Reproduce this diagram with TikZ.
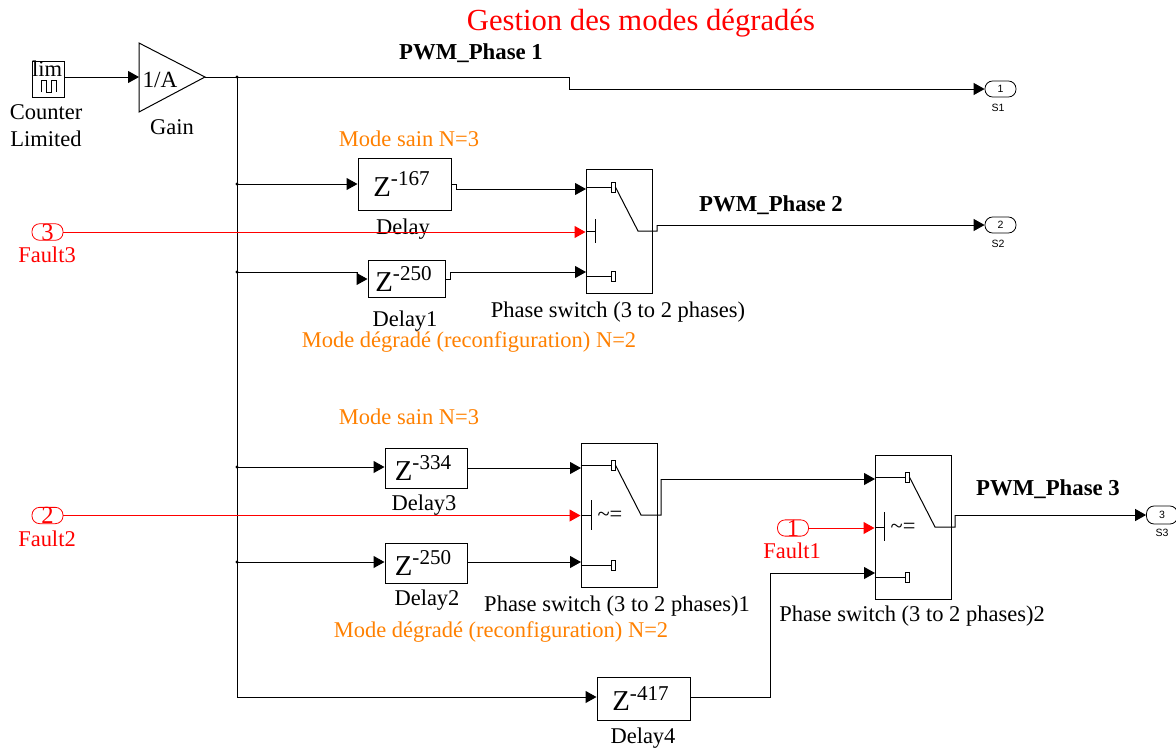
\documentclass[tikz,border=0pt]{standalone}
\usepackage{xcolor}
\usepackage{fontspec}
\setmainfont{Liberation Serif}
\setsansfont{Liberation Sans}
\usepackage{tikz}
\usetikzlibrary{arrows.meta}
\definecolor{modeorange}{RGB}{255,128,0}
\newcommand{\delayz}[1]{{\fontsize{20.5}{22}\selectfont Z}\raisebox{.75em}{\fontsize{15}{16}\selectfont #1}\kern1.5mm}
\tikzset{
  sig/.style={line width=.25mm,-{Triangle[length=2.75mm,width=3mm]}},
  sigred/.style={sig,red},
  wire/.style={line width=.25mm},
  blockbox/.style={draw,line width=.25mm,inner sep=0pt},
  switchbox/.style={draw,line width=.25mm,inner sep=0pt,minimum width=19mm,minimum height=36mm},
  contactbox/.style={draw,line width=.2mm,inner sep=0pt,minimum width=1mm,minimum height=2.5mm},
  portbox/.style={draw,line width=.2mm,rounded corners=1.9mm,inner sep=0pt,minimum width=7.75mm,minimum height=4mm},
  faultbox/.style={portbox,red,font=\fontsize{17.5}{17}\selectfont},
  outbox/.style={portbox,font=\sffamily\fontsize{7.5}{8}\selectfont},
  lbl/.style={font=\fontsize{16}{17}\selectfont,inner sep=0pt},
  small/.style={font=\sffamily\fontsize{7.5}{8}\selectfont,inner sep=0pt},
  faultlbl/.style={lbl,red},
  modelbl/.style={lbl,modeorange},
  pwmlbl/.style={lbl,font=\bfseries\fontsize{16.2}{17}\selectfont},
}
\begin{document}
\begin{tikzpicture}[x=.25mm,y=-.25mm]
\useasboundingbox (0,0) rectangle (1176,749);
\node[font=\fontsize{21.8}{25}\selectfont,red,inner sep=0pt] (title) at (641,23) {Gestion des modes dégradés};

\node[blockbox,minimum width=8mm,minimum height=9mm] (counter) at (48,79) {};
\node[lbl] (counterlim) at (47,69) {lim};
\draw[line width=.15mm] (41,92) -- (41,80) -- (46,80) -- (46,92) -- (51,92) -- (51,80) -- (56,80) -- (56,92);
\node[lbl] (counterlbl) at (46,128) {\begin{tabular}{@{}c@{}}Counter\\[2.2pt]Limited\end{tabular}};
\draw[line width=.25mm] (139,43) -- (205,77) -- (139,112) -- cycle;
\coordinate (gainin) at (139,77);
\coordinate (gainout) at (205,77);
\node[font=\fontsize{16.5}{18}\selectfont,inner sep=0pt] (gaintxt) at (160,80) {1/A};
\node[lbl] (gainlbl) at (172,127) {Gain};
\draw[sig] (counter.east |- gainin) -- (gainin);

\coordinate (busa) at (237,77);
\coordinate (busb) at (237,184);
\coordinate (busc) at (237,272);
\coordinate (busd) at (237,467);
\coordinate (buse) at (237,562);
\coordinate (busf) at (237,697);
\draw[wire] (gainout) -- (busa) -- (busf);
\fill (busa) circle (1.6);
\fill (busb) circle (1.6);
\fill (busc) circle (1.6);
\fill (busd) circle (1.6);
\fill (buse) circle (1.6);

\node[outbox] (sa) at (1000.5,89) {1};
\node[outbox] (sb) at (1000.5,225) {2};
\node[outbox,minimum height=4.5mm] (sc) at (1162,515) {3};
\node[small] (salbl) at (998,108) {S1};
\node[small] (sblbl) at (998,244) {S2};
\node[small] (sclbl) at (1162,533) {S3};
\draw[sig] (busa) -- (569,77) -- (569,89) -- (sa.west);
\node[pwmlbl] (pwma) at (471,53) {PWM\_Phase 1};

\node[modelbl] (modea) at (409,139) {Mode sain N=3};
\node[blockbox,minimum width=23.25mm,minimum height=13mm] (delay) at (404.5,184) {\delayz{-167}};
\node[lbl] (delaylbl) at (403,229) {Delay};
\node[blockbox,minimum width=19.25mm,minimum height=9.25mm] (delayb) at (406.5,279) {\delayz{-250}};
\node[lbl] (delayblbl) at (405,321) {Delay1};
\node[modelbl] (modeb) at (469,342) {Mode dégradé (reconfiguration) N=2};
\draw[sig] (busb) -- (delay.west);
\draw[sig] (busc) -- (357,272) -- (357,279) -- (delayb.west);

\node[switchbox,minimum width=16.5mm,minimum height=31mm] (swa) at (619,231.5) {};
\coordinate (swain) at (586,189);
\coordinate (swbin) at (586,272);
\node[contactbox] (caa) at (613,187) {};
\node[contactbox] (cab) at (613,276) {};
\coordinate (arma) at (638,231);
\coordinate (ctla) at (595,231);
\draw[wire] (swa.west |- caa) -- (caa);
\draw[wire] (swa.west |- cab) -- (cab);
\draw[wire] (swa.west |- ctla) -- (ctla);
\draw[wire] (595,219) -- (595,243);
\draw[wire] (caa.east) -- (arma) -- (657,231) -- (657,225);
\draw[sig] (657,225) -- (sb.west);
\draw[sig] (delay.east) -- (456,184) -- (456,189) -- (swain);
\draw[sig] (delayb.east) -- (450,279) -- (450,272) -- (swbin);
\node[lbl] (swalbl) at (618,312) {Phase switch (3 to 2 phases)};
\node[pwmlbl] (pwmb) at (771,205) {PWM\_Phase 2};

\node[faultbox] (faultc) at (47.5,232) {3};
\node[faultlbl] (faultclbl) at (47,255) {Fault3};
\draw[sigred] (faultc.east) -- (swa.west |- faultc.east);

\node[modelbl] (modec) at (409,417) {Mode sain N=3};
\node[blockbox,minimum width=20.5mm,minimum height=10mm] (delayd) at (426,468) {\delayz{-334}};
\node[lbl] (delaydlbl) at (424,505) {Delay3};
\node[blockbox,minimum width=20.5mm,minimum height=10mm] (delaye) at (426,563) {\delayz{-250}};
\node[lbl] (delayelbl) at (427,600) {Delay2};
\node[modelbl] (moded) at (501,632) {Mode dégradé (reconfiguration) N=2};
\draw[sig] (busd) -- (delayd.west |- busd);
\draw[sig] (buse) -- (delaye.west |- buse);

\node[switchbox] (swb) at (619,515.5) {};
\coordinate (swcin) at (581,468);
\coordinate (swdin) at (581,562);
\node[contactbox] (cba) at (613,465) {};
\node[contactbox] (cbb) at (613,565) {};
\coordinate (armb) at (641,515);
\coordinate (ctlb) at (591,515);
\draw[wire] (swb.west |- cba) -- (cba);
\draw[wire] (swb.west |- cbb) -- (cbb);
\draw[wire] (swb.west |- ctlb) -- (ctlb);
\draw[wire] (591,500) -- (591,530);
\node[font=\fontsize{16}{16}\selectfont,inner sep=0pt] (cmpb) at (610,516) {\textasciitilde=};
\draw[sig] (delayd.east |- swcin) -- (swcin);
\draw[sig] (delaye.east |- swdin) -- (swdin);
\node[lbl] (swblbl) at (617,606) {Phase switch (3 to 2 phases)1};

\node[faultbox] (faultb) at (47.5,515.5) {2};
\node[faultlbl] (faultblbl) at (47,539) {Fault2};
\draw[sigred] (faultb.east) -- (swb.west |- faultb.east);

\node[switchbox] (swc) at (913,527.5) {};
\coordinate (sweiin) at (875,479);
\coordinate (swfin) at (875,573);
\node[contactbox] (cca) at (907,477) {};
\node[contactbox] (ccb) at (907,577) {};
\coordinate (armc) at (935,527);
\coordinate (ctlc) at (884,527);
\draw[wire] (swc.west |- cca) -- (cca);
\draw[wire] (swc.west |- ccb) -- (ccb);
\draw[wire] (swc.west |- ctlc) -- (ctlc);
\draw[wire] (884,512) -- (884,541);
\node[font=\fontsize{16}{16}\selectfont,inner sep=0pt] (cmpc) at (903,528) {\textasciitilde=};
\draw[wire] (cca.east) -- (armc) -- (955,527) -- (955,515);
\draw[sig] (955,515) -- (sc.west);
\draw[wire] (cba.east) -- (armb) -- (661,515) -- (661,479);
\draw[sig] (661,479) -- (sweiin);
\node[lbl] (swclbl) at (912,616) {Phase switch (3 to 2 phases)2};
\node[pwmlbl] (pwmc) at (1048,489) {PWM\_Phase 3};

\node[faultbox] (faulta) at (793,528) {1};
\node[faultlbl] (faultalbl) at (792,551) {Fault1};
\draw[sigred] (faulta.east) -- (swc.west |- faulta.east);

\node[blockbox,minimum width=23.25mm,minimum height=10.75mm] (delayf) at (643.5,698.5) {\delayz{-417}};
\node[lbl] (delayflbl) at (643,738) {Delay4};
\draw[sig] (busf) -- (delayf.west |- busf);
\draw[sig] (delayf.east |- busf) -- (770,697) -- (770,573) -- (swfin);
\end{tikzpicture}
\end{document}
